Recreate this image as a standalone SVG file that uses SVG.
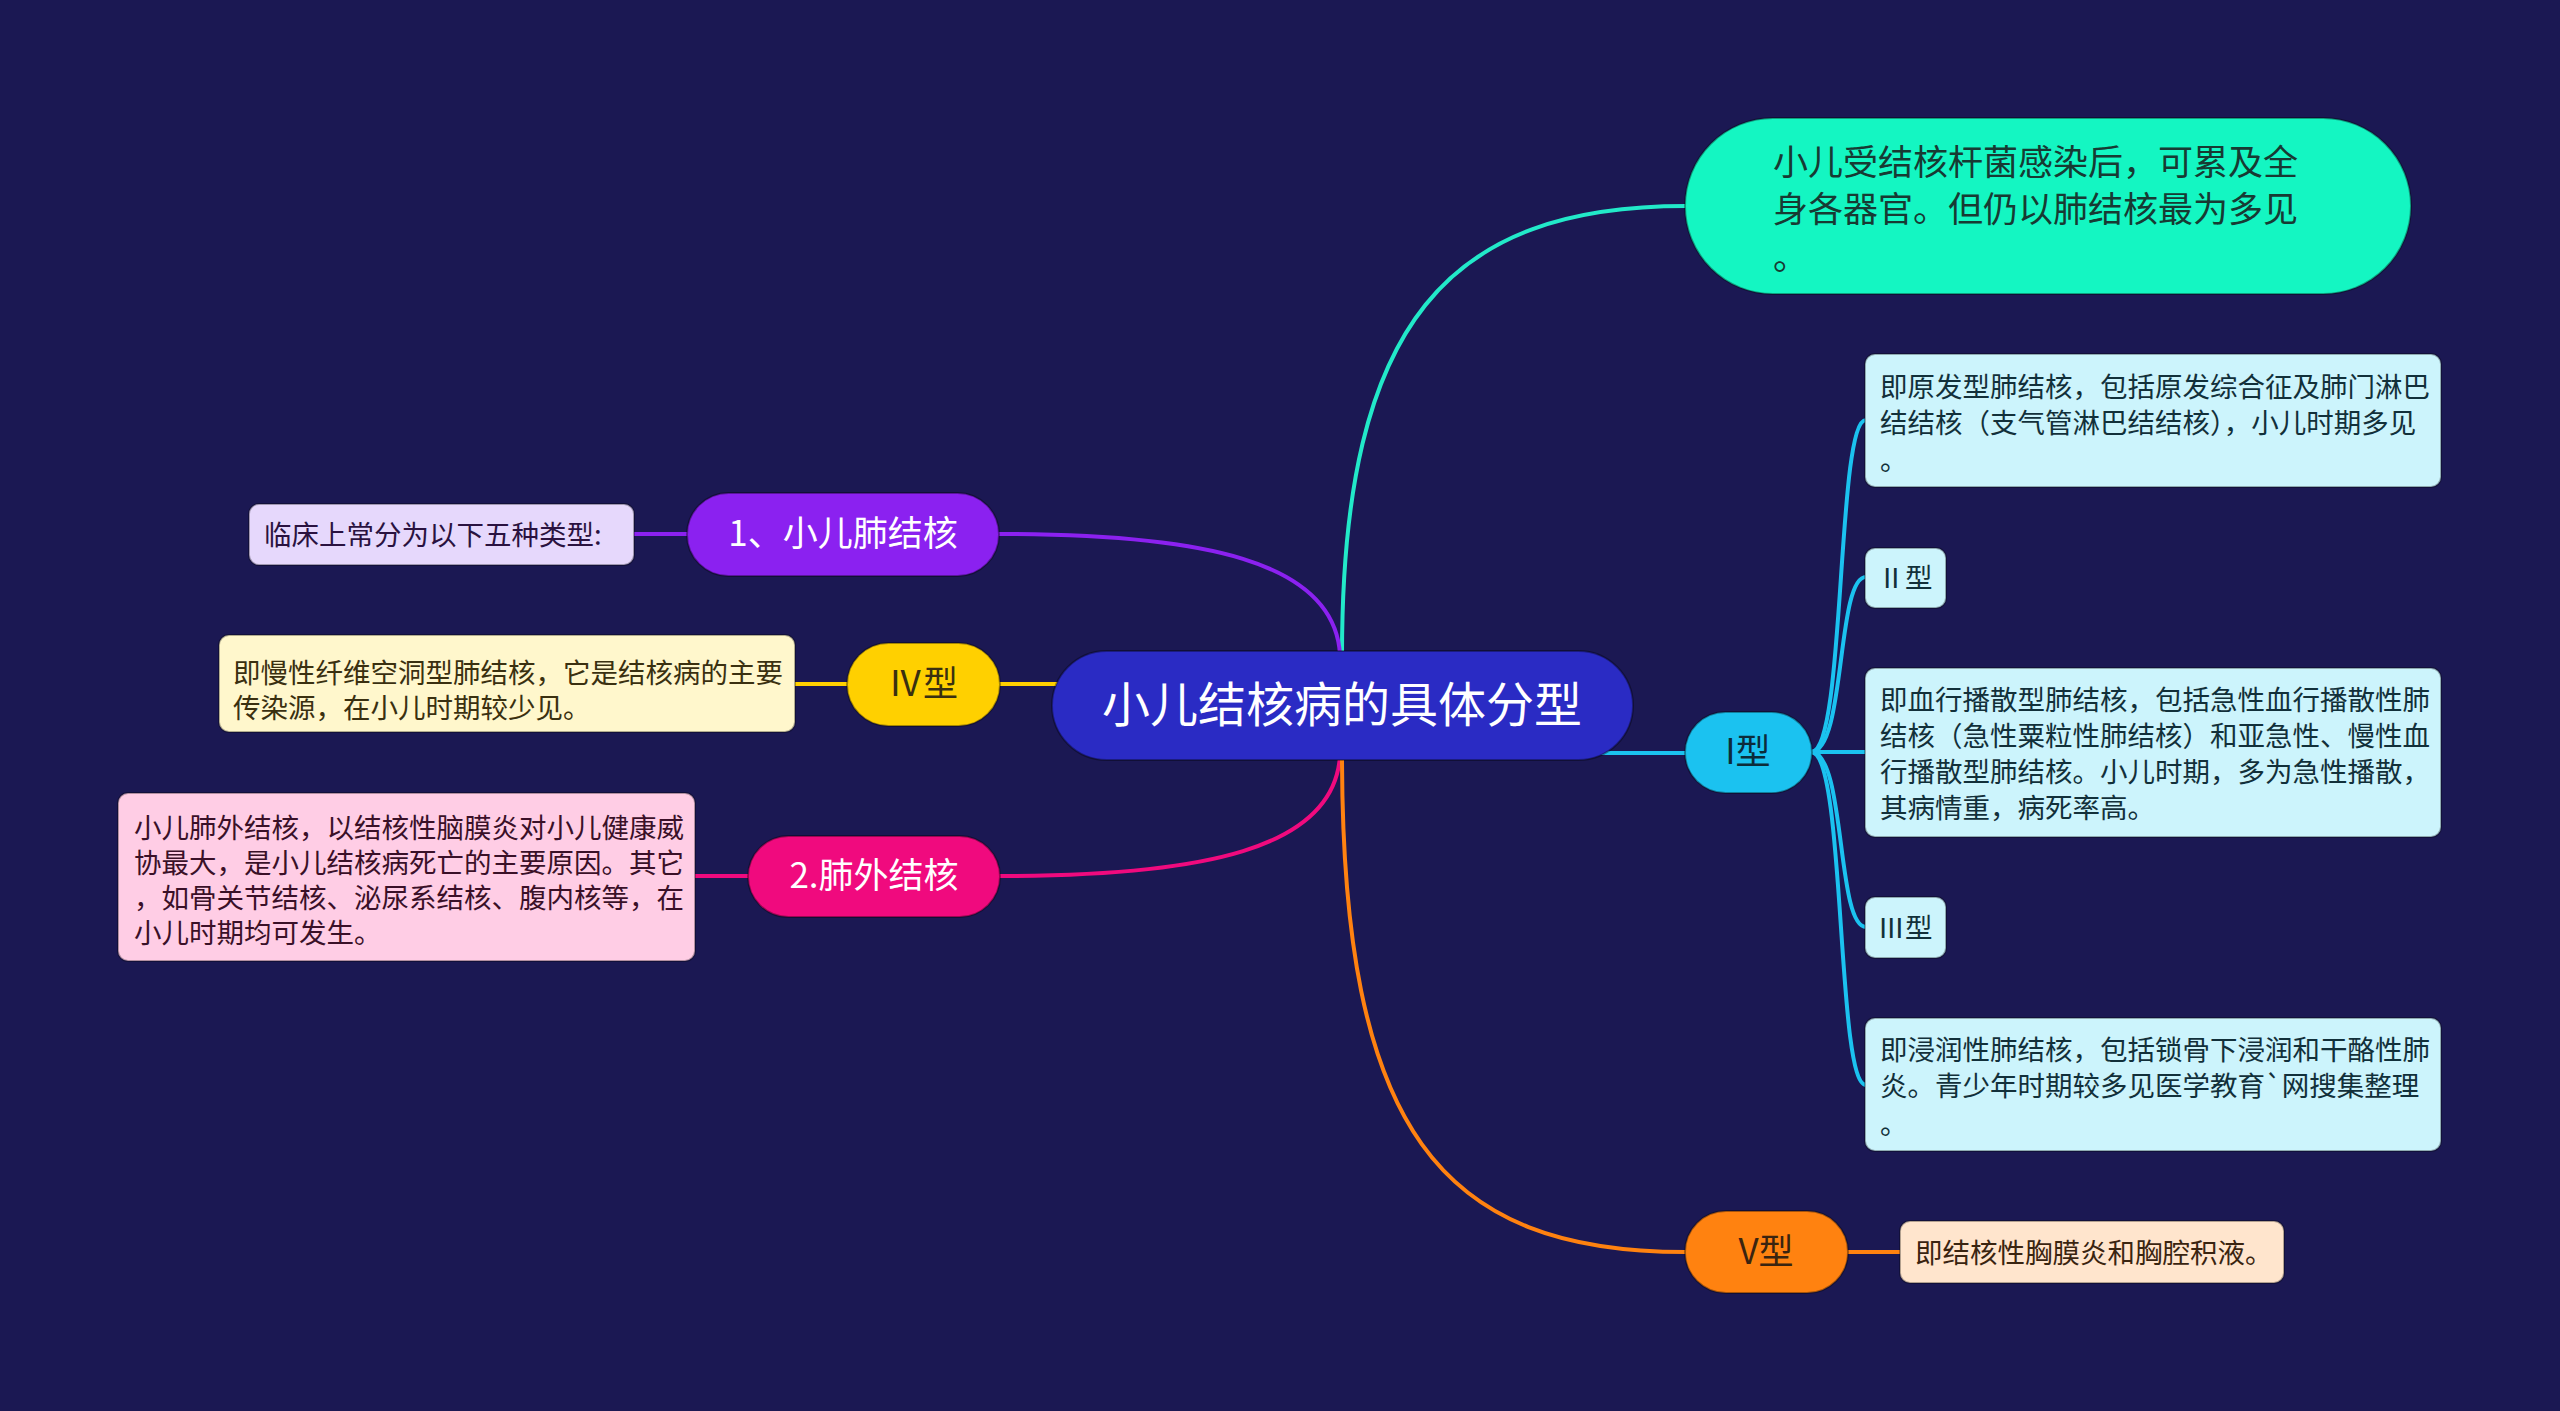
<svg xmlns="http://www.w3.org/2000/svg" width="2560" height="1411" viewBox="0 0 2560 1411">
<style>
text{font-family:"Noto Sans CJK SC","Noto Sans",sans-serif}
.conn{fill:none;stroke-width:4;stroke-linecap:round}
.pill{stroke:rgba(0,0,0,0.35);stroke-width:2}
.box{stroke:rgba(0,0,0,0.3);stroke-width:2}
.t35{font-size:35px}
.d{font-size:27.5px}
.mid{text-anchor:middle}
</style>
<rect x="0" y="0" width="2560" height="1411" fill="#1B1853"/>
<g id="connectors">
  <path class="conn" stroke="#22E9C9" d="M1342,655 C1342,320 1450,206 1686,206"/>
  <path class="conn" stroke="#8B21F0" d="M1340,655 C1335,560 1200,534 998,534"/>
  <path class="conn" stroke="#FFD000" d="M999,684 L1075,684"/>
  <path class="conn" stroke="#F00A7E" d="M1340,755 C1335,850 1200,876 999,876"/>
  <path class="conn" stroke="#FF8210" d="M1342,755 C1342,1130 1440,1252 1686,1252"/>
  <path class="conn" stroke="#1BC2F0" d="M1600,753 L1686,753"/>
  <path class="conn" stroke="#1BC2F0" d="M1811,752 C1846,752 1836,420 1866,420"/>
  <path class="conn" stroke="#1BC2F0" d="M1811,752 C1846,752 1836,577 1866,577"/>
  <path class="conn" stroke="#1BC2F0" d="M1811,752 L1866,752"/>
  <path class="conn" stroke="#1BC2F0" d="M1811,752 C1846,752 1836,927 1866,927"/>
  <path class="conn" stroke="#1BC2F0" d="M1811,752 C1846,752 1836,1085 1866,1085"/>
  <path class="conn" stroke="#FF8210" d="M1848,1252 L1900,1252"/>
  <path class="conn" stroke="#8B21F0" d="M634,534 L687,534"/>
  <path class="conn" stroke="#FFD000" d="M795,684 L847,684"/>
  <path class="conn" stroke="#F00A7E" d="M695,876 L749,876"/>
</g>
<g id="center">
  <rect class="pill" x="1052" y="651" width="581" height="109" rx="54.5" fill="#2A2BC4"/>
  <text x="1342" y="722" class="mid" font-size="48" fill="#FFFFFF">小儿结核病的具体分型</text>
</g>
<g id="node-top">
  <rect class="pill" x="1685" y="118" width="726" height="176" rx="88" fill="#14F6C2"/>
  <text class="t35" fill="#173A33"><tspan x="1773" y="175">小儿受结核杆菌感染后，可累及全</tspan><tspan x="1773" y="222">身各器官。但仍以肺结核最为多见</tspan><tspan x="1773" y="270">。</tspan></text>
</g>
<g id="node-type1">
  <rect class="pill" x="1685" y="712" width="127" height="81" rx="40.5" fill="#1BC2F0"/>
  <text x="1748" y="764" class="t35 mid" fill="#0C2C3A">I型</text>
</g>
<g id="node-t1a">
  <rect class="box" x="1865" y="354" width="576" height="133" rx="10" fill="#CCF4FC"/>
  <text class="d" fill="#12303A"><tspan x="1880" y="397">即原发型肺结核，包括原发综合征及肺门淋巴</tspan><tspan x="1880" y="433">结结核（支气管淋巴结结核），小儿时期多见</tspan><tspan x="1880" y="470">。</tspan></text>
</g>
<g id="node-t2">
  <rect class="box" x="1865" y="548" width="81" height="60" rx="10" fill="#CCF4FC"/>
  <text x="1905" y="588" class="d mid" fill="#12303A">Ⅱ型</text>
</g>
<g id="node-t1c">
  <rect class="box" x="1865" y="668" width="576" height="169" rx="10" fill="#CCF4FC"/>
  <text class="d" fill="#12303A"><tspan x="1880" y="710">即血行播散型肺结核，包括急性血行播散性肺</tspan><tspan x="1880" y="746">结核（急性粟粒性肺结核）和亚急性、慢性血</tspan><tspan x="1880" y="782">行播散型肺结核。小儿时期，多为急性播散，</tspan><tspan x="1880" y="818">其病情重，病死率高。</tspan></text>
</g>
<g id="node-t3">
  <rect class="box" x="1865" y="897" width="81" height="61" rx="10" fill="#CCF4FC"/>
  <text x="1905" y="938" class="d mid" fill="#12303A">Ⅲ型</text>
</g>
<g id="node-t1e">
  <rect class="box" x="1865" y="1018" width="576" height="133" rx="10" fill="#CCF4FC"/>
  <text class="d" fill="#12303A"><tspan x="1880" y="1060">即浸润性肺结核，包括锁骨下浸润和干酪性肺</tspan><tspan x="1880" y="1096">炎。青少年时期较多见医学教育`网搜集整理</tspan><tspan x="1880" y="1134">。</tspan></text>
</g>
<g id="node-type5">
  <rect class="pill" x="1685" y="1211" width="163" height="82" rx="41" fill="#FF8210"/>
  <text x="1766" y="1264" class="t35 mid" fill="#3A2410">V型</text>
</g>
<g id="node-t5">
  <rect class="box" x="1900" y="1221" width="384" height="62" rx="10" fill="#FFE5CD"/>
  <text x="1915" y="1263" class="d" fill="#3A2410">即结核性胸膜炎和胸腔积液。</text>
</g>
<g id="node-ptb">
  <rect class="pill" x="687" y="493" width="312" height="83" rx="41.5" fill="#8B21F0"/>
  <text x="843" y="546" class="t35 mid" fill="#FFFFFF">1、小儿肺结核</text>
</g>
<g id="node-ptb-note">
  <rect class="box" x="249" y="504" width="385" height="61" rx="10" fill="#E6D8FC"/>
  <text x="264" y="545" class="d" fill="#2A1240">临床上常分为以下五种类型:</text>
</g>
<g id="node-type4">
  <rect class="pill" x="847" y="643" width="153" height="83" rx="41.5" fill="#FFD000"/>
  <text x="923" y="696" class="t35 mid" fill="#3A3010">Ⅳ型</text>
</g>
<g id="node-type4-note">
  <rect class="box" x="219" y="635" width="576" height="97" rx="10" fill="#FFF7CC"/>
  <text class="d" fill="#3A3010"><tspan x="233" y="683">即慢性纤维空洞型肺结核，它是结核病的主要</tspan><tspan x="233" y="718">传染源，在小儿时期较少见。</tspan></text>
</g>
<g id="node-extra">
  <rect class="pill" x="748" y="836" width="252" height="81" rx="40.5" fill="#F00A7E"/>
  <text x="874" y="888" class="t35 mid" fill="#FFFFFF">2.肺外结核</text>
</g>
<g id="node-extra-note">
  <rect class="box" x="118" y="793" width="577" height="168" rx="10" fill="#FFCDE5"/>
  <text class="d" fill="#3A1028"><tspan x="134" y="838">小儿肺外结核，以结核性脑膜炎对小儿健康威</tspan><tspan x="134" y="873">协最大，是小儿结核病死亡的主要原因。其它</tspan><tspan x="134" y="908">，如骨关节结核、泌尿系结核、腹内核等，在</tspan><tspan x="134" y="943">小儿时期均可发生。</tspan></text>
</g>
</svg>
